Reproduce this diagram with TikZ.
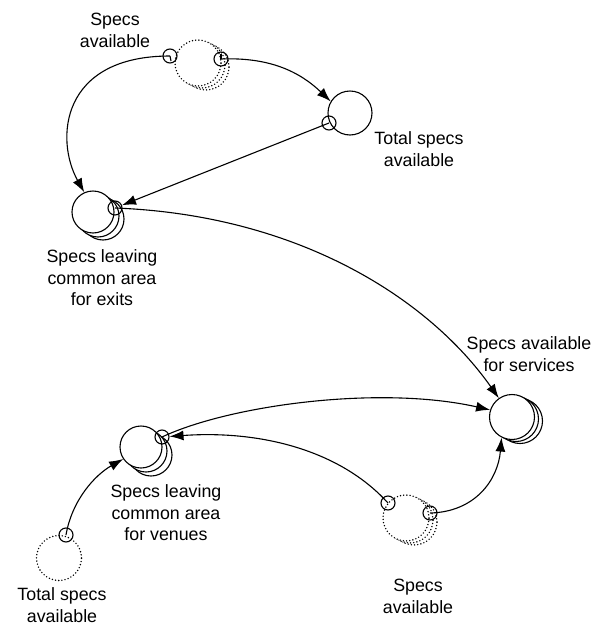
\documentclass[tikz,border=0pt]{standalone}
\usepackage{fontspec}
\setmainfont{Liberation Sans}
\usetikzlibrary{arrows.meta}

\begin{document}
\begin{tikzpicture}[x=1pt,y=-1pt,
  stock/.style={circle,draw,fill=white,line width=1.1pt,minimum size=#1,inner sep=0pt},
  stock/.default=44pt,
  ghost/.style={circle,draw,fill=white,line width=1.6pt,dash pattern=on 0pt off 3.2pt,line cap=round,minimum size=#1,inner sep=0pt},
  ghost/.default=46pt,
  port/.style={circle,draw,line width=1.1pt,minimum size=14pt,inner sep=0pt},
  link/.style={line width=1.1pt,-{Latex[length=14pt,width=10pt]}},
  wire/.style={line width=1.1pt},
  % base anchor sits on the last line of a multi-line label
  lbl/.style={font=\fontsize{17.8}{21.5}\selectfont,align=center,anchor=base,inner sep=0pt}
]
\useasboundingbox (0,0) rectangle (603,627);

% ghost stack: specs available (top)
\node[ghost] (g1c) at (206,67) {};
\node[ghost] (g1b) at (202,65) {};
\node[ghost] (g1) at (198,63) {};

% ghost stack: specs available (bottom)
\node[ghost] (g2c) at (414,522) {};
\node[ghost] (g2b) at (410,520) {};
\node[ghost] (g2) at (406,518) {};

% ghost: total specs available (bottom left)
\node[ghost=45pt] (g3) at (59,558) {};

% total specs available
\node[stock] (tt) at (350,113) {};

% specs leaving common area for exits
\node[stock=42pt] (exc) at (103,219) {};
\node[stock=42pt] (exb) at (98,216) {};
\node[stock=42pt] (ex) at (93,212) {};

% specs available for services
\node[stock=45pt] (svc) at (520,421) {};
\node[stock=45pt] (svb) at (516,419) {};
\node[stock=45pt] (sv) at (512,417) {};

% specs leaving common area for venues
\node[stock=42pt] (vnc) at (151,455) {};
\node[stock=42pt] (vnb) at (146,451) {};
\node[stock=42pt] (vn) at (141,447) {};

% connection ports
\node[port] (p1) at (170,56) {};
\node[port] (p2) at (221,59) {};
\node[port] (pt) at (329,123) {};
\node[port] (exs) at (115,208) {};
\node[port] (vs) at (162,437) {};
\node[port] (p3) at (388,503) {};
\node[port] (p4) at (430,513) {};
\node[port] (p5) at (66,535) {};

% connectors
\draw[link] (p1.center) .. controls (60,56) and (55,140) .. (ex.114);
\draw[link] (p2.center) .. controls (270,57) and (300,72) .. (tt.149);
\draw[link] (pt.center) -- (exs);
\draw[link] (exs.center) .. controls (300,215) and (430,300) .. (sv.125);
\draw[link] (vs.center) .. controls (230,405) and (380,385) .. (sv.162);
\draw[link] (p3.center) .. controls (340,450) and (260,430) .. (vs);
\draw[link] (p4.center) .. controls (475,512) and (498,480) .. (sv.243);
\draw[link] (p5.center) .. controls (72,500) and (95,475) .. (vn.214);

% small ticks inside the ports
\draw[wire] (p1.center) -- ++(1,5);
\draw[wire] (p2.center) -- ++(0,-5);

% labels
\node[lbl] (l1) at (115,47) {Specs\\available};
\node[lbl] (l2) at (419,166) {Total specs\\available};
\node[lbl] (l3) at (102,305.5) {Specs leaving\\common area\\for exits};
\node[lbl] (l4) at (529,371) {Specs available\\for services};
\node[lbl] (l5) at (166,540.5) {Specs leaving\\common area\\for venues};
\node[lbl] (l6) at (418,613) {Specs\\available};
\node[lbl] (l7) at (62,622) {Total specs\\available};
\end{tikzpicture}
\end{document}
